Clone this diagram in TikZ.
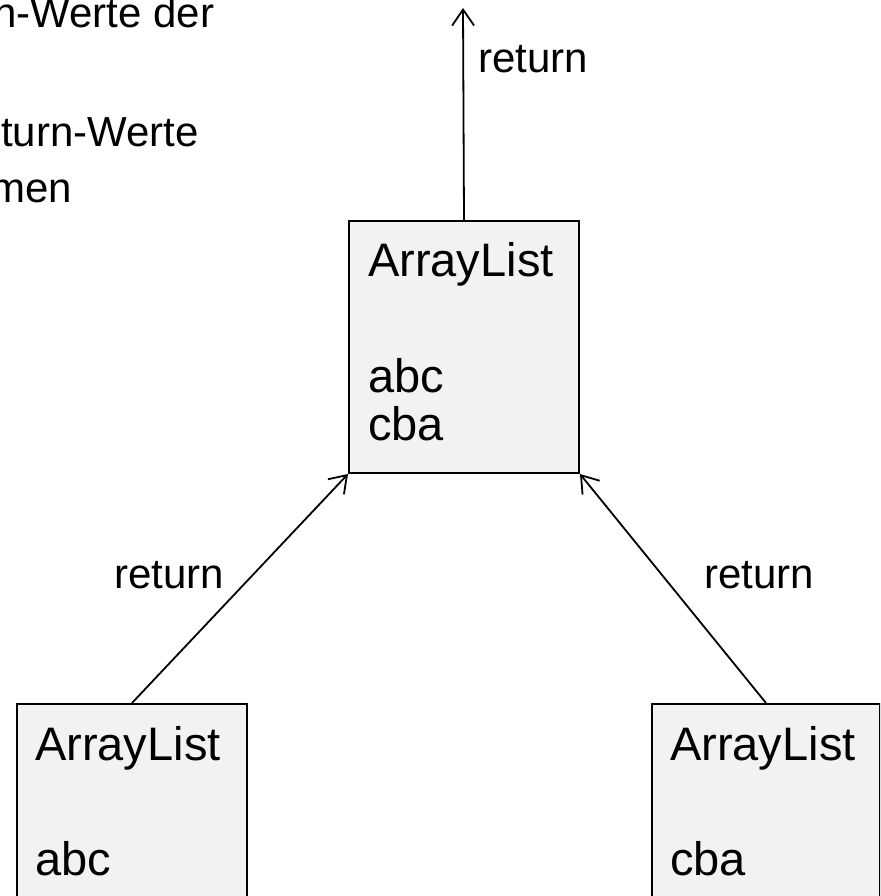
\documentclass[tikz,border=0pt]{standalone}
\usepackage{fontspec}
\setmainfont{Liberation Sans}
\usetikzlibrary{arrows.meta}
\definecolor{boxfill}{RGB}{242,242,242}
\tikzset{
  listbox/.style={draw=black, line width=2pt, fill=boxfill, minimum width=230pt, minimum height=252pt, inner sep=0pt, anchor=north west},
  boxtext/.style={inner sep=0pt, anchor=base west, font=\fontsize{47}{56}\selectfont},
  lbl/.style={inner sep=0pt, anchor=base west, font=\fontsize{42}{50}\selectfont},
  conn/.style={line width=1.8pt, -{Straight Barb[length=16pt, width=22pt, line width=1.8pt]}}
}
\begin{document}
\begin{tikzpicture}[x=1pt, y=-1pt]
\useasboundingbox (0,0) rectangle (880,896);
\clip (0,0) rectangle (880,896);
% top-left text
\node[lbl] (t1) at (-7,28) {n-Werte der};
\node[lbl] (t2) at (1,147) {turn-Werte};
\node[lbl] (t3) at (-10,202) {men};
% boxes
\node[listbox] (top) at (348,220) {};
\node[listbox] (bl) at (16,703) {};
\node[listbox, minimum width=228pt] (br) at (651,703) {};
% box texts
\node[boxtext] (topA) at (368,276) {ArrayList};
\node[boxtext] (topB) at (368,392) {abc};
\node[boxtext] (topC) at (368,440) {cba};
\node[boxtext] (blA) at (35,760) {ArrayList};
\node[boxtext] (blB) at (35,875) {abc};
\node[boxtext] (brA) at (670,760) {ArrayList};
\node[boxtext] (brB) at (670,875) {cba};
% connectors
\coordinate (tip) at (463,8);
\draw[conn] (top.north) -- (tip);
\draw[conn] (bl.north) -- (top.south west);
\draw[conn] (br.north) -- (top.south east);
% labels
\node[lbl] (r0) at (478,73) {return};
\node[lbl] (r1) at (114,588) {return};
\node[lbl] (r2) at (704,588) {return};
\end{tikzpicture}
\end{document}
